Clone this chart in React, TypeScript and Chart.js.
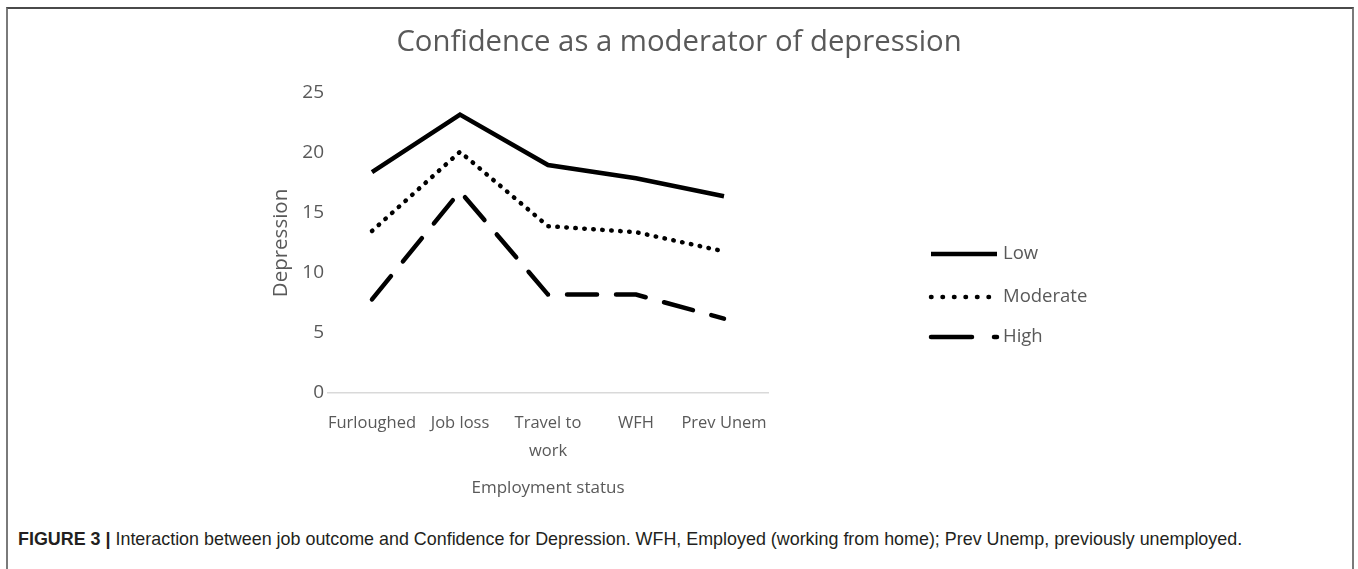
import React, { useEffect, useRef } from "react";
import { Chart, registerables } from "chart.js";

Chart.register(...registerables);

const categories: (string | string[])[] = ["Furloughed", "Job loss", ["Travel to", "work"], "WFH", "Prev Unem"];
const lowValues = [18.4, 23.2, 19.0, 17.9, 16.4];
const moderateValues = [13.5, 20.1, 13.9, 13.4, 11.8];
const highValues = [7.8, 16.8, 8.2, 8.2, 6.2];
const seriesLabels = ["Low", "Moderate", "High"];
const yTicks = [0, 5, 10, 15, 20, 25];

const TEXT_GREY = "#595959";
const FONT = '"Open Sans", "DejaVu Sans", sans-serif';

const legendPlugin = {
  id: "customLegend",
  afterDraw(chart: any) {
    const ctx = chart.ctx;
    const rows = [
      { y: 254, dash: [] as number[], cap: "butt" },
      { y: 297, dash: [0.5, 11], cap: "round" },
      { y: 337, dash: [41, 22], cap: "round" },
    ];
    chart.data.datasets.forEach((ds: any, i: number) => {
      const r = rows[i];
      ctx.save();
      ctx.strokeStyle = ds.borderColor;
      ctx.lineWidth = ds.borderWidth;
      ctx.setLineDash(r.dash);
      ctx.lineCap = r.cap;
      ctx.beginPath();
      ctx.moveTo(931, r.y);
      ctx.lineTo(997, r.y);
      ctx.stroke();
      ctx.setLineDash([]);
      ctx.fillStyle = TEXT_GREY;
      ctx.font = `18.5px ${FONT}`;
      ctx.textBaseline = "middle";
      ctx.textAlign = "left";
      ctx.fillText(ds.label, 1003, r.y);
      ctx.restore();
    });
  },
};

export default function App() {
  const canvasRef = useRef<HTMLCanvasElement | null>(null);

  useEffect(() => {
    if (!canvasRef.current) return;
    const chart = new Chart(canvasRef.current, {
      type: "line",
      data: {
        labels: categories,
        datasets: [
          {
            label: seriesLabels[0],
            data: lowValues,
            borderColor: "#000000",
            borderWidth: 4.5,
            pointRadius: 0,
            tension: 0,
            fill: false,
          },
          {
            label: seriesLabels[1],
            data: moderateValues,
            borderColor: "#000000",
            borderWidth: 4.5,
            borderDash: [0.5, 8.5],
            borderCapStyle: "round",
            pointRadius: 0,
            tension: 0,
            fill: false,
          },
          {
            label: seriesLabels[2],
            data: highValues,
            borderColor: "#000000",
            borderWidth: 4.5,
            borderDash: [30, 19],
            borderCapStyle: "round",
            pointRadius: 0,
            tension: 0,
            fill: false,
          },
        ],
      },
      options: {
        animation: false,
        responsive: false,
        maintainAspectRatio: false,
        layout: { padding: { left: 0, right: 0, top: 25, bottom: 17 } },
        plugins: {
          legend: { display: false },
          tooltip: { enabled: false },
          title: {
            display: true,
            text: "Confidence as a moderator of depression",
            color: TEXT_GREY,
            font: { family: FONT, size: 29.3, weight: "normal", lineHeight: 1.2 },
            padding: { top: 0.5, bottom: 32.3 },
          },
        },
        scales: {
          x: {
            type: "category",
            offset: true,
            grid: { display: false, drawTicks: false },
            border: { display: true, color: "#d9d9d9", width: 1.5 },
            ticks: {
              color: TEXT_GREY,
              font: { family: FONT, size: 16.5, lineHeight: 1.65 },
              padding: 17,
              maxRotation: 0,
              autoSkip: false,
            },
            title: {
              display: true,
              text: "Employment status",
              color: TEXT_GREY,
              font: { family: FONT, size: 17, lineHeight: 1.2 },
              padding: { top: 0, bottom: 5 },
            },
            afterFit: (scale: any) => {
              scale.height = 110;
            },
          },
          y: {
            min: 0,
            max: 25,
            grid: { display: false, drawTicks: false },
            border: { display: false },
            afterBuildTicks: (scale: any) => {
              scale.ticks = yTicks.map((v) => ({ value: v }));
            },
            ticks: {
              color: TEXT_GREY,
              font: { family: FONT, size: 19 },
              padding: 4,
            },
            title: {
              display: true,
              text: "Depression",
              color: TEXT_GREY,
              font: { family: FONT, size: 20.5, lineHeight: 1.2 },
              padding: { top: 269, bottom: 0 },
            },
            afterFit: (scale: any) => {
              scale.width = 328;
            },
          },
          legendSpace: {
            type: "linear",
            position: "right",
            display: true,
            grid: { display: false, drawTicks: false },
            border: { display: false },
            ticks: { display: false },
            afterFit: (scale: any) => {
              scale.width = 590;
            },
          },
        },
      },
      plugins: [legendPlugin],
    });
    return () => chart.destroy();
  }, []);

  return (
    <div style={{ position: "fixed", left: 0, top: 0, width: 1358, height: 569, overflow: "hidden", background: "#fff" }}>
      <div
        style={{
          position: "absolute",
          left: 6,
          top: 7,
          width: 1344,
          height: 600,
          borderLeft: "2px solid #7a7a7a",
          borderRight: "2px solid #7a7a7a",
          borderTop: "2px solid #4a4a4a",
        }}
      />
      <canvas ref={canvasRef} width={1358} height={520} style={{ position: "absolute", left: 0, top: 0, width: 1358, height: 520 }} />
      <div
        style={{
          position: "absolute",
          left: 18,
          top: 529,
          whiteSpace: "nowrap",
          fontFamily: '"Liberation Sans Narrow", "Arial Narrow", "Liberation Sans", sans-serif',
          fontSize: 17.9,
          lineHeight: "20px",
          color: "#231f20",
        }}
      >
        <b>FIGURE 3 |</b> Interaction between job outcome and Confidence for Depression. WFH, Employed (working from home); Prev Unemp, previously unemployed.
      </div>
    </div>
  );
}
